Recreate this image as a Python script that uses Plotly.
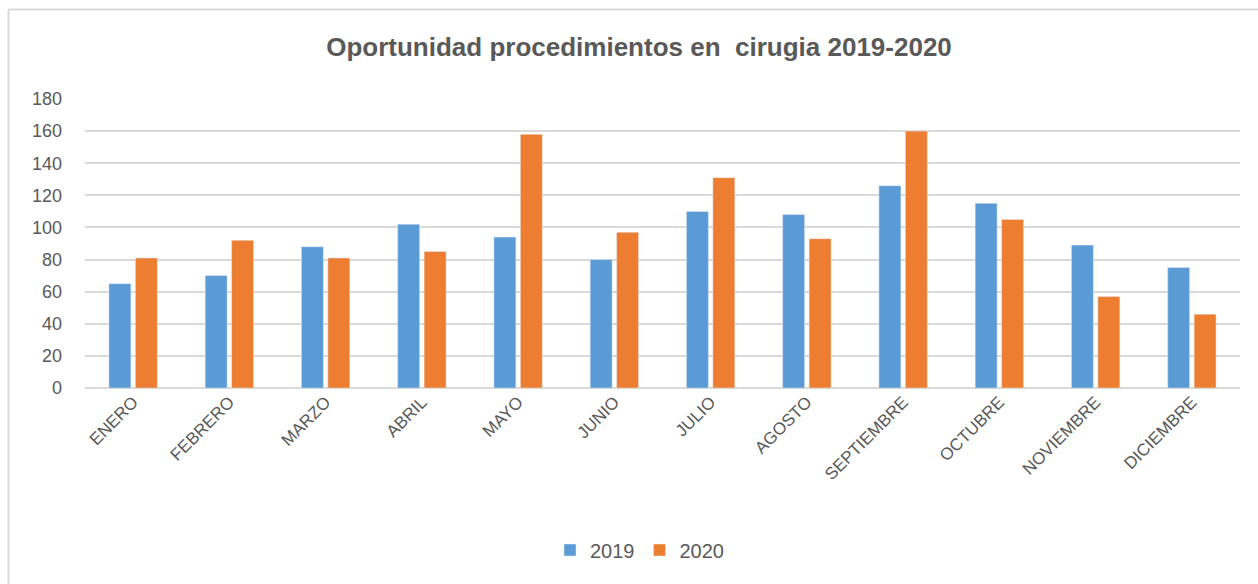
import plotly.graph_objects as go

months = ["ENERO", "FEBRERO", "MARZO", "ABRIL", "MAYO", "JUNIO", "JULIO",
          "AGOSTO", "SEPTIEMBRE", "OCTUBRE", "NOVIEMBRE", "DICIEMBRE"]
values_2019 = [65, 70, 88, 102, 94, 80, 110, 108, 126, 115, 89, 75]
values_2020 = [81, 92, 81, 85, 158, 97, 131, 93, 160, 105, 57, 46]
y_ticks = [0, 20, 40, 60, 80, 100, 120, 140, 160, 180]

grey = "#595959"
fig = go.Figure()
fig.add_trace(go.Bar(x=months, y=values_2019, name="2019", marker_color="#5B9BD5"))
fig.add_trace(go.Bar(x=months, y=values_2020, name="2020", marker_color="#ED7D31"))

L, R, T, B = 85, 18, 99, 196
W, H = 1258, 584
pw, ph = W - L - R, H - T - B

def px_x(p):
    return (p - L) / pw

def px_y(p):
    return (H - B - p) / ph

border = dict(color="#d9d9d9", width=2)
fig.update_layout(
    width=W, height=H,
    margin=dict(l=L, r=R, t=T, b=B, pad=0),
    paper_bgcolor="white", plot_bgcolor="white",
    barmode="group", bargap=0.45, bargroupgap=0.17,
    title=dict(text="<b>Oportunidad procedimientos en  cirugia 2019-2020</b>",
               x=639 / W, xanchor="center", y=1 - 47 / H, yanchor="middle",
               font=dict(family="Liberation Sans", size=26, color=grey)),
    font=dict(family="Liberation Sans", color=grey),
    xaxis=dict(tickangle=-45, tickfont=dict(size=17, color=grey), showgrid=False,
               showline=False, ticks=""),
    yaxis=dict(range=[0, 180], tickvals=y_ticks, tickfont=dict(size=18, color=grey),
               gridcolor="#d9d9d9", gridwidth=1.5, zeroline=True, zerolinecolor="#d9d9d9",
               zerolinewidth=1.5, ticks="", ticklabelstandoff=22),
    legend=dict(orientation="h", x=px_x(550), xanchor="left", y=px_y(550), yanchor="middle",
                font=dict(size=20, color=grey), itemwidth=30),
    shapes=[
        dict(type="line", xref="paper", yref="paper",
             x0=px_x(8.5), x1=px_x(1258), y0=px_y(9.5), y1=px_y(9.5), line=border, layer="below"),
        dict(type="line", xref="paper", yref="paper",
             x0=px_x(8.5), x1=px_x(8.5), y0=px_y(9.5), y1=px_y(584), line=border, layer="below"),
    ],
)
fig.write_html("out.html", config={"displayModeBar": False},
               post_script="document.body.style.margin='0';document.body.style.padding='0';")
